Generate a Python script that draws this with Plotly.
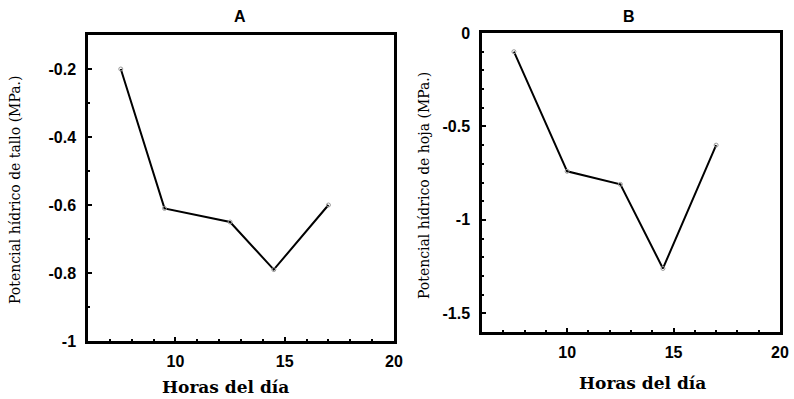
import plotly.graph_objects as go

# Data
hours_a = [7.5, 9.5, 12.5, 14.5, 17]
stem_potential = [-0.2, -0.61, -0.65, -0.79, -0.6]
hours_b = [7.5, 10, 12.5, 14.5, 17]
leaf_potential = [-0.1, -0.74, -0.81, -1.26, -0.6]

xticks = [10, 15, 20]
yticks_a = [-1, -0.8, -0.6, -0.4, -0.2]
yticks_a_text = ["-1", "-0.8", "-0.6", "-0.4", "-0.2"]
yticks_b = [-1.5, -1, -0.5, 0]
yticks_b_text = ["-1.5", "-1", "-0.5", "0"]

W, H = 794, 399
fig = go.Figure()

line_style = dict(color="black", width=2)
marker_style = dict(symbol="circle-open", size=4, color="#999999", line=dict(width=1))

fig.add_trace(go.Scatter(x=hours_a, y=stem_potential, mode="lines+markers",
                         line=line_style, marker=marker_style, xaxis="x", yaxis="y",
                         showlegend=False))
fig.add_trace(go.Scatter(x=hours_b, y=leaf_potential, mode="lines+markers",
                         line=line_style, marker=marker_style, xaxis="x2", yaxis="y2",
                         showlegend=False))

tickfont = dict(family="Liberation Sans, Arial", size=16, color="black", weight="bold")
common = dict(showline=True, linecolor="black", linewidth=2.5, mirror=True,
              ticks="inside", ticklen=4, tickwidth=1.5, tickcolor="black",
              showgrid=False, zeroline=False, tickfont=tickfont, automargin=False)
xcommon = dict(common, ticklabelstandoff=4)
ycommon = dict(common, ticklabelstandoff=6)

def px_x(p):
    return p / W

def px_y(p):
    return 1 - p / H

fig.update_layout(
    width=W, height=H,
    margin=dict(l=0, r=0, t=0, b=0, autoexpand=False),
    paper_bgcolor="white", plot_bgcolor="white",
    xaxis=dict(domain=[px_x(88), px_x(394)], range=[6, 20], tickvals=xticks,
               minor=dict(dtick=1, ticks="inside", ticklen=2, tickcolor="black"),
               anchor="y", **xcommon),
    yaxis=dict(domain=[px_y(341), px_y(35)], range=[-1, -0.1], tickvals=yticks_a,
               ticktext=yticks_a_text,
               minor=dict(dtick=0.1, ticks="inside", ticklen=2, tickcolor="black"),
               anchor="x", **ycommon),
    xaxis2=dict(domain=[px_x(482), px_x(780)], range=[6, 20], tickvals=xticks,
                minor=dict(dtick=1, ticks="inside", ticklen=2, tickcolor="black"),
                anchor="y2", **xcommon),
    yaxis2=dict(domain=[px_y(332), px_y(33)], range=[-1.6, 0], tickvals=yticks_b,
                ticktext=yticks_b_text,
                minor=dict(dtick=0.1, ticks="inside", ticklen=2, tickcolor="black"),
                anchor="x2", **ycommon),
)

title_font = dict(family="Liberation Sans, Arial", size=16, color="black")
serif = "DejaVu Serif"
annotations = [
    dict(text="<b>A</b>", x=px_x(240), y=px_y(17), font=title_font),
    dict(text="<b>B</b>", x=px_x(629), y=px_y(16), font=title_font),
    dict(text="Horas del día", x=px_x(225), y=px_y(387),
         font=dict(family=serif, size=17, color="black", weight=600)),
    dict(text="Horas del día", x=px_x(642), y=px_y(383),
         font=dict(family=serif, size=17, color="black", weight=600)),
    dict(text="Potencial hídrico de tallo (MPa.)", x=px_x(15), y=px_y(190), textangle=-90,
         font=dict(family=serif, size=14, color="black")),
    dict(text="Potencial hídrico de hoja (MPa.)", x=px_x(424), y=px_y(185), textangle=-90,
         font=dict(family=serif, size=14, color="black")),
]
for a in annotations:
    a.update(xref="paper", yref="paper", showarrow=False, xanchor="center", yanchor="middle")
fig.update_layout(annotations=annotations)

fig.write_html("out.html",
               config={"displayModeBar": False},
               post_script="document.body.style.margin='0';document.body.style.overflow='hidden';")
